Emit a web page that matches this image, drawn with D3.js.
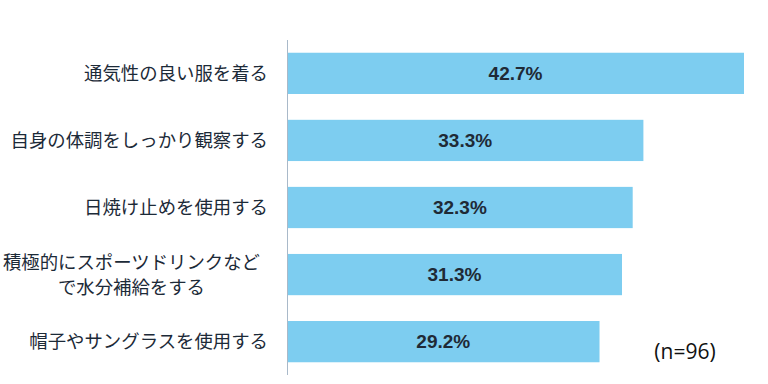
<!DOCTYPE html>
<html>
<head>
<meta charset="utf-8">
<script src="https://cdn.jsdelivr.net/npm/d3@7"></script>
<style>
  body { margin: 0; background: #fff; }
</style>
</head>
<body>
<div id="vis"></div>
<script>
const FRAME_WIDTH = 768;
const FRAME_HEIGHT = 384;
const MARGINS = {left: 287, right: 24, top: 40, bottom: 9};

// data
const categories = [
  ["通気性の良い服を着る"],
  ["自身の体調をしっかり観察する"],
  ["日焼け止めを使用する"],
  ["積極的にスポーツドリンクなど", "で水分補給をする"],
  ["帽子やサングラスを使用する"]
];
const values = [42.7, 33.3, 32.3, 31.3, 29.2];
const note = "(n=96)";

const VIS_WIDTH = FRAME_WIDTH - MARGINS.left - MARGINS.right;
const VIS_HEIGHT = FRAME_HEIGHT - MARGINS.top - MARGINS.bottom;

const svg = d3.select("#vis")
  .append("svg")
    .attr("width", FRAME_WIDTH)
    .attr("height", FRAME_HEIGHT);

const X_SCALE = d3.scaleLinear()
  .domain([0, 42.7])
  .range([0, 457]);

const Y_SCALE = d3.scaleBand()
  .domain(d3.range(values.length))
  .range([0, VIS_HEIGHT])
  .paddingInner(0.385)
  .paddingOuter(0.19);

const g = svg.append("g")
  .attr("transform", "translate(" + MARGINS.left + "," + MARGINS.top + ")");

// bars
g.selectAll(".bar")
  .data(values)
  .enter()
  .append("rect")
    .attr("class", "bar")
    .attr("x", 0)
    .attr("y", (d, i) => Y_SCALE(i))
    .attr("width", d => X_SCALE(d))
    .attr("height", Y_SCALE.bandwidth())
    .attr("fill", "#7dcdf0");

// value labels
g.selectAll(".val")
  .data(values)
  .enter()
  .append("text")
    .attr("x", d => X_SCALE(d) / 2)
    .attr("y", (d, i) => Y_SCALE(i) + Y_SCALE.bandwidth() / 2)
    .attr("dy", "0.36em")
    .attr("text-anchor", "middle")
    .attr("font-family", "Liberation Sans, Arial, sans-serif")
    .attr("font-weight", "bold")
    .attr("font-size", "19px")
    .attr("fill", "#1f2a36")
    .text(d => d.toFixed(1) + "%");

// axis line
g.append("line")
  .attr("x1", 0.5).attr("x2", 0.5)
  .attr("y1", 0).attr("y2", VIS_HEIGHT)
  .attr("stroke", "#a9b9c9")
  .attr("stroke-width", 1);

// category labels
const LABEL_RIGHT = -19;
const LINE_H = 25;
categories.forEach((lines, i) => {
  const cy = Y_SCALE(i) + Y_SCALE.bandwidth() / 2;
  const t = g.append("text")
    .attr("font-family", "Noto Sans CJK JP, sans-serif")
    .attr("font-size", "18.4px")
    .attr("fill", "#1c2a38");
  const spans = lines.map((s, k) => t.append("tspan")
    .attr("y", cy + (k - (lines.length - 1) / 2) * LINE_H)
    .attr("dy", "0.35em")
    .text(s));
  if (lines.length === 1) {
    t.attr("text-anchor", "end");
    spans[0].attr("x", LABEL_RIGHT);
  } else {
    const w = d3.max(spans, s => s.node().getComputedTextLength());
    t.attr("text-anchor", "middle");
    spans.forEach(s => s.attr("x", LABEL_RIGHT - w / 2 - 8));
  }
});

// sample size note
svg.append("text")
  .attr("x", 685)
  .attr("y", 359)
  .attr("text-anchor", "middle")
  .attr("font-family", "Open Sans, Noto Sans, sans-serif")
  .attr("font-size", "21px")
  .attr("fill", "#111")
  .text(note);
</script>
</body>
</html>
